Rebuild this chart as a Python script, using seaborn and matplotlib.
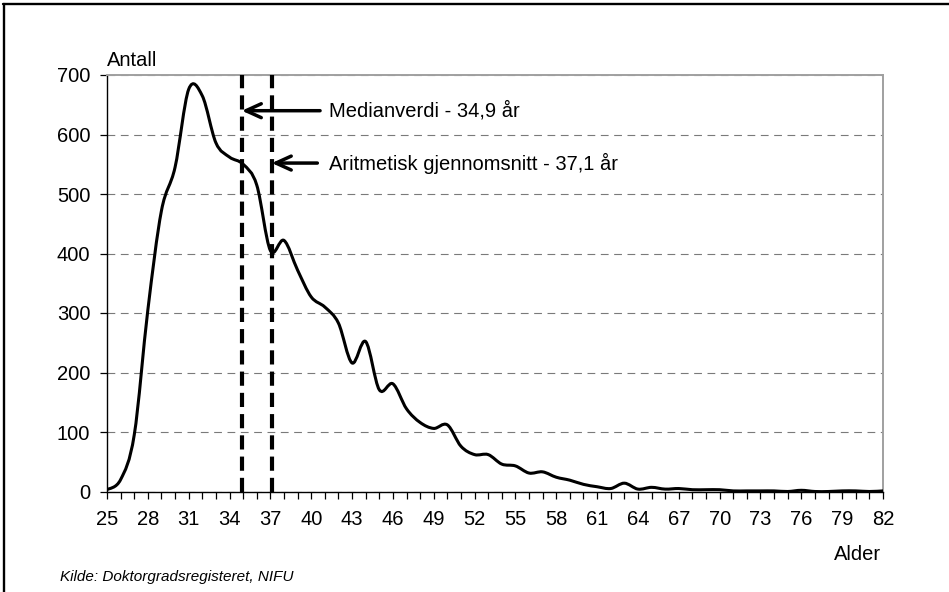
import numpy as np
import matplotlib
matplotlib.use("Agg")
import matplotlib.pyplot as plt
import seaborn as sns
from matplotlib.path import Path
from matplotlib.patches import PathPatch
from matplotlib.lines import Line2D
from matplotlib.ticker import MultipleLocator

# Age distribution of doctoral degree holders
ages = list(range(25, 83))
counts = [3, 20, 95, 305, 472, 545, 676, 665, 586, 562,
          550, 515, 405, 422, 372, 327, 310, 283, 216, 252,
          171, 181, 139, 116, 106, 112, 76, 62, 62, 46,
          43, 31, 33, 24, 19, 12, 8, 5, 14, 4,
          7, 4, 5, 3, 3, 3, 1, 1, 1, 1,
          0, 2, 0, 0, 1, 1, 0, 1]

median_age = 34.9
mean_age = 37.1
median_label = "Medianverdi - 34,9 år"
mean_label = "Aritmetisk gjennomsnitt - 37,1 år"
x_ticks = list(range(25, 83, 3))
y_ticks = list(range(0, 800, 100))


def smooth_path(x, y):
    """Catmull-Rom style bezier path through the points (like Excel's smoothed line)."""
    x = np.asarray(x, float)
    y = np.asarray(y, float)
    px = np.concatenate([[x[0]], x, [x[-1]]])
    py = np.concatenate([[y[0]], y, [y[-1]]])
    verts = [(x[0], y[0])]
    codes = [Path.MOVETO]
    for i in range(len(x) - 1):
        p0 = np.array([px[i], py[i]])
        p1 = np.array([px[i + 1], py[i + 1]])
        p2 = np.array([px[i + 2], py[i + 2]])
        p3 = np.array([px[i + 3], py[i + 3]])
        c1 = p1 + (p2 - p0) / 6.0
        c2 = p2 - (p3 - p1) / 6.0
        verts += [tuple(c1), tuple(c2), tuple(p2)]
        codes += [Path.CURVE4] * 3
    return Path(verts, codes)


sns.set_theme(style="white")
plt.rcParams["font.family"] = ["Liberation Sans", "DejaVu Sans"]
plt.rcParams["text.color"] = "black"
plt.rcParams["xtick.color"] = "black"
plt.rcParams["ytick.color"] = "black"

fs = 14.5

fig = plt.figure(figsize=(9.49, 5.92), dpi=100)
ax = fig.add_axes([107 / 949, 1 - 491.5 / 592, 776 / 949, 416.5 / 592])

# the curve itself
ax.add_patch(PathPatch(smooth_path(ages, counts), fill=False, edgecolor="black",
                       lw=2.2, joinstyle="round", capstyle="round", zorder=4))

# median and mean markers
for v in (median_age, mean_age):
    ax.axvline(v, color="black", lw=3, dashes=(3.4, 1.7), zorder=5)

arrow = dict(arrowstyle="->,head_length=0.55,head_width=0.25", lw=2.5,
             color="black", shrinkA=0, shrinkB=0, mutation_scale=20)
ax.annotate("", xy=(median_age, 640), xytext=(40.65, 640), arrowprops=arrow, zorder=6)
ax.annotate("", xy=(mean_age, 552), xytext=(40.45, 552), arrowprops=arrow, zorder=6)
ax.text(41.3, 640, median_label, fontsize=fs, va="center", ha="left")
ax.text(41.3, 552, mean_label, fontsize=fs, va="center", ha="left")

ax.set_xlim(25, 82)
ax.set_ylim(0, 700)
ax.set_xticks(x_ticks)
ax.set_xticklabels([str(t) for t in x_ticks])
ax.xaxis.set_minor_locator(MultipleLocator(1))
ax.set_yticks(y_ticks)
ax.tick_params(which="both", direction="out", length=5, width=0.9, color="black",
               labelsize=fs)
ax.tick_params(axis="x", which="both", bottom=True, pad=8)
ax.tick_params(axis="y", left=True, pad=7)

ax.yaxis.grid(True, color="#7a7a7a", lw=0.8, linestyle=(0, (7, 5)))
ax.xaxis.grid(False)
ax.set_axisbelow(True)

for side in ("left", "bottom"):
    ax.spines[side].set_color("black")
    ax.spines[side].set_linewidth(1.0)
for side in ("top", "right"):
    ax.spines[side].set_color("#a0a0a0")
    ax.spines[side].set_linewidth(1.4)

fig.text(107 / 949, 1 - 60 / 592, "Antall", fontsize=fs, ha="left", va="center")
fig.text(881 / 949, 1 - 555 / 592, "Alder", fontsize=fs, ha="right", va="center")
fig.text(60 / 949, 1 - 577 / 592, "Kilde: Doktorgradsregisteret, NIFU", fontsize=11,
         style="italic", ha="left", va="center")

# frame lines on top and left of the whole picture
fig.add_artist(Line2D([3 / 949, 1], [1 - 4 / 592] * 2, transform=fig.transFigure,
                      color="black", lw=1.7))
fig.add_artist(Line2D([3.5 / 949] * 2, [0, 1 - 4 / 592], transform=fig.transFigure,
                      color="black", lw=1.7))

fig.savefig("out.png", dpi=100)
